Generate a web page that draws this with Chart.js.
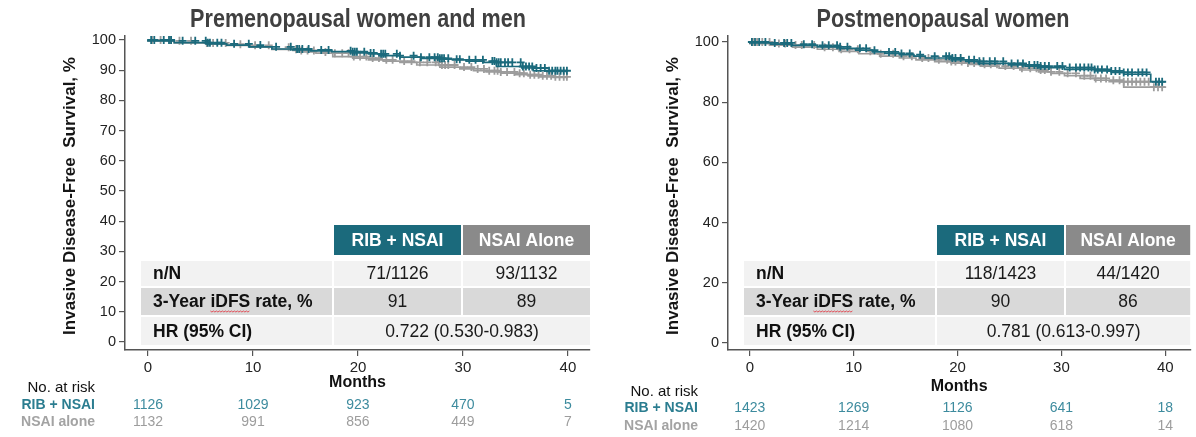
<!DOCTYPE html>
<html>
<head>
<meta charset="utf-8">
<script src="https://cdn.jsdelivr.net/npm/chart.js@4.4.1/dist/chart.umd.min.js"></script>
<style>
  html, body { margin: 0; padding: 0; background: #fff; }
  body { width: 1196px; height: 437px; position: relative; overflow: hidden; }
  canvas { position: absolute; top: 0; }
  #pre { left: 0; }
  #post { left: 603px; }
</style>
</head>
<body>
<canvas id="pre" width="598" height="437"></canvas>
<canvas id="post" width="593" height="437"></canvas>
<script>
// Axis ticks
const monthTicks = [0, 10, 20, 30, 40];
const preSurvTicks = [0, 10, 20, 30, 40, 50, 60, 70, 80, 90, 100];
const postSurvTicks = [0, 20, 40, 60, 80, 100];

// Kaplan-Meier steps: event month / survival %
const preRibMonths = [0, 2.5, 5.6, 7.5, 9.7, 11.8, 13.8, 15.5, 17.5, 19.5, 21, 22, 24, 26, 27.8, 29, 30.3, 32, 33.2, 35.6, 36.7, 38, 40];
const preRibSurv   = [100, 99.7, 99.1, 98.7, 98.3, 97.7, 97.0, 96.7, 96.4, 96.1, 95.7, 95.4, 94.8, 94.3, 93.9, 93.6, 93.4, 93.0, 92.6, 91.2, 90.7, 89.8, 89.6];
const preNsaiMonths = [0, 2.5, 5.6, 7.5, 9.7, 11.8, 13.8, 14.4, 16, 17.6, 19.5, 21, 22.4, 24, 25.6, 27.8, 29.7, 31, 32.2, 33.6, 35, 36.2, 37.3, 38.6, 40];
const preNsaiSurv   = [100, 99.7, 99.0, 98.6, 98.2, 97.6, 96.9, 96.5, 96.0, 95.6, 94.5, 94.0, 93.4, 93.0, 92.6, 91.7, 91.0, 90.4, 89.8, 89.4, 89.0, 88.5, 88.1, 87.8, 87.6];
const postRibMonths = [0, 2, 4.1, 6.5, 8.6, 10.2, 11.8, 13, 14.4, 15.8, 16.9, 19.4, 20.8, 22, 24.9, 26.5, 27.8, 30.3, 33.2, 34.8, 36, 38.6, 39, 40];
const postRibSurv   = [100, 99.7, 99.3, 98.9, 98.4, 97.9, 97.3, 96.7, 96.2, 95.8, 95.3, 94.7, 94.1, 93.6, 92.9, 92.4, 92.0, 91.5, 90.9, 90.4, 89.9, 89.3, 86.8, 86.8];
const postNsaiMonths = [0, 2, 4.1, 6.5, 8.6, 10.5, 12.5, 14.4, 16, 17.8, 19.4, 21, 22.3, 24, 26, 27.8, 29, 30.3, 31.8, 33.2, 34.6, 36, 38.6, 40];
const postNsaiSurv   = [100, 99.5, 99.0, 98.3, 97.6, 96.9, 96.1, 95.3, 94.7, 94.1, 93.5, 93.0, 92.6, 92.0, 91.3, 90.7, 90.1, 89.6, 88.8, 87.9, 87.3, 86.8, 85.0, 85.0];

// Censoring times (months)
const preRibCensor = [0.3, 0.6, 1.5, 2.0, 2.2, 3.3, 4.5, 5.5, 5.7, 5.9, 6.6, 7.0, 8.2, 9.6, 10.7, 12.2, 13.6, 14.2, 14.4, 14.7, 15.3, 16.5, 17.2, 19.3, 19.5, 19.7, 19.9, 20.6, 21.2, 21.5, 22.2, 22.4, 22.6, 23.7, 24.0, 25.3, 26.0, 26.8, 27.3, 27.6, 27.8, 28.0, 28.2, 28.6, 29.4, 29.7, 30.6, 31.2, 31.9, 32.8, 33.0, 33.2, 33.4, 33.6, 34.0, 34.3, 34.7, 35.5, 35.7, 36.0, 36.3, 36.6, 37.0, 37.4, 37.8, 38.2, 38.5, 38.8, 39.0, 39.3, 39.6, 39.9];
const preNsaiCensor = [0.4, 1.2, 2.1, 3.0, 4.1, 5.6, 6.2, 7.4, 8.8, 10.2, 11.5, 13.4, 14.1, 14.6, 15.2, 15.8, 16.9, 17.8, 18.5, 19.1, 19.6, 20.2, 20.8, 21.4, 22.0, 22.7, 23.3, 24.4, 25.1, 25.9, 26.6, 27.4, 27.7, 28.0, 28.3, 28.6, 29.2, 30.1, 30.8, 31.4, 32.0, 32.5, 33.0, 33.3, 33.6, 34.2, 34.9, 35.4, 35.8, 36.4, 36.8, 37.2, 37.6, 38.0, 38.4, 38.8, 39.2, 39.6, 39.9];
const postRibCensor = [0.2, 0.5, 0.9, 1.5, 2.4, 3.3, 3.6, 4.0, 5.2, 6.0, 7.0, 7.6, 8.4, 8.7, 9.4, 10.6, 11.2, 12.0, 13.4, 14.0, 14.6, 15.4, 16.4, 17.8, 18.9, 19.2, 19.5, 19.8, 20.3, 21.1, 21.6, 22.1, 22.5, 23.1, 23.6, 24.4, 25.2, 25.8, 26.3, 26.9, 27.4, 27.7, 28.0, 28.4, 28.8, 29.6, 30.1, 30.8, 31.4, 31.8, 32.2, 32.6, 32.9, 33.2, 33.5, 33.9, 34.4, 34.8, 35.2, 35.6, 36.0, 36.4, 36.8, 37.4, 37.8, 38.2, 39.1, 39.4, 39.7];
const postNsaiCensor = [0.3, 0.7, 1.2, 1.9, 2.8, 3.4, 4.4, 5.0, 6.2, 7.2, 8.0, 8.8, 9.6, 10.4, 11.6, 12.6, 13.8, 14.8, 15.6, 16.6, 17.2, 18.2, 19.0, 19.4, 19.8, 20.4, 21.0, 21.6, 22.2, 22.6, 23.2, 23.8, 24.6, 25.4, 26.2, 27.0, 27.6, 28.0, 28.4, 29.0, 29.8, 30.6, 31.4, 32.2, 32.8, 33.3, 33.8, 34.3, 35.0, 35.6, 36.0, 36.4, 36.8, 37.2, 37.6, 38.0, 38.4, 38.9, 39.3, 39.7];

// Numbers at risk at each month tick
const preRiskRib = [1126, 1029, 923, 470, 5];
const preRiskNsai = [1132, 991, 856, 449, 7];
const postRiskRib = [1423, 1269, 1126, 641, 18];
const postRiskNsai = [1420, 1214, 1080, 618, 14];

// Summary table
const armNames = ['RIB + NSAI', 'NSAI Alone'];
const rowLabels = ['n/N', '3-Year iDFS rate, %', 'HR (95% CI)'];
const preEvents = ['71/1126', '93/1132'];
const preRate = [91, 89];
const preHR = '0.722 (0.530-0.983)';
const postEvents = ['118/1423', '44/1420'];
const postRate = [90, 86];
const postHR = '0.781 (0.613-0.997)';

const TEAL = '#1b6a7c';
const GREY = '#9c9c9c';
const SANS = '"Liberation Sans", Arial, sans-serif';

function hasFont(name) {
  const c = document.createElement('canvas').getContext('2d');
  c.font = '20px monospace';
  const w = c.measureText('abcdefghijWMmw').width;
  c.font = `20px "${name}", monospace`;
  return c.measureText('abcdefghijWMmw').width !== w;
}
const narrowOk = hasFont('Liberation Sans Narrow');

function steps(months, surv) {
  return months.map((m, i) => ({ x: m, y: surv[i] }));
}

// survival value of a step curve at month t
function survAt(t, months, surv) {
  let v = surv[0];
  for (let i = 0; i < months.length; i++) {
    if (months[i] <= t) v = surv[i];
  }
  return v;
}

function censorPoints(times, months, surv) {
  return times.map(t => ({ x: t, y: survAt(t, months, surv) }));
}

const kmTable = {
  id: 'kmTable',
  afterDraw(chart, args, opts) {
    const ctx = chart.ctx;
    const area = chart.chartArea;
    const xs = chart.scales.x;
    ctx.save();

    // panel title
    ctx.fillStyle = '#404040';
    ctx.textAlign = 'center';
    ctx.textBaseline = 'alphabetic';
    if (narrowOk) {
      ctx.font = 'bold 26px "Liberation Sans Narrow"';
      ctx.fillText(opts.title, opts.titleX, 27);
    } else {
      ctx.font = 'bold 26px ' + SANS;
      ctx.translate(opts.titleX, 27);
      ctx.scale(0.83, 1);
      ctx.fillText(opts.title, 0, 0);
      ctx.setTransform(1, 0, 0, 1, 0, 0);
    }

    // y axis title
    ctx.save();
    ctx.translate(70, 196);
    ctx.rotate(-Math.PI / 2);
    ctx.font = 'bold 17px ' + SANS;
    ctx.fillStyle = '#151515';
    ctx.textBaseline = 'middle';
    ctx.fillText('Invasive Disease-Free  Survival, %', 0, 0);
    ctx.restore();

    // summary table
    const c0 = 141, c1 = 334, c2 = 463, c3 = area.right;
    const rows = [[261, 286], [288, 315], [317, 345]];
    ctx.fillStyle = TEAL;
    ctx.fillRect(c1, 225, c2 - c1 - 2, 30);
    ctx.fillStyle = '#8a8a8a';
    ctx.fillRect(c2, 225, c3 - c2, 30);
    const bg = ['#f2f2f2', '#d9d9d9', '#f2f2f2'];
    rows.forEach((r, i) => {
      ctx.fillStyle = bg[i];
      ctx.fillRect(c0, r[0], c1 - c0 - 2, r[1] - r[0]);
      if (i < 2) {
        ctx.fillRect(c1, r[0], c2 - c1 - 2, r[1] - r[0]);
        ctx.fillRect(c2, r[0], c3 - c2, r[1] - r[0]);
      } else {
        ctx.fillRect(c1, r[0], c3 - c1, r[1] - r[0]);
      }
    });

    ctx.textBaseline = 'middle';
    ctx.textAlign = 'center';
    ctx.font = 'bold 17.5px ' + SANS;
    ctx.fillStyle = '#ffffff';
    ctx.fillText(armNames[0], (c1 + c2 - 2) / 2, 241);
    ctx.fillText(armNames[1], (c2 + c3) / 2, 241);

    ctx.textAlign = 'left';
    ctx.fillStyle = '#111';
    rowLabels.forEach((lab, i) => {
      ctx.fillText(lab, c0 + 12, (rows[i][0] + rows[i][1]) / 2 + 1);
    });
    // red wavy underline under iDFS
    const pre = ctx.measureText('3-Year ').width;
    const word = ctx.measureText('iDFS').width;
    ctx.strokeStyle = '#e2515a';
    ctx.lineWidth = 1;
    ctx.beginPath();
    for (let dx = 0; dx <= word; dx += 1.5) {
      const yy = 311 + ((Math.round(dx / 1.5) % 2) ? 1 : 0);
      if (dx === 0) ctx.moveTo(c0 + 12 + pre + dx, yy);
      else ctx.lineTo(c0 + 12 + pre + dx, yy);
    }
    ctx.stroke();

    ctx.textAlign = 'center';
    ctx.font = '17.5px ' + SANS;
    ctx.fillStyle = '#1a1a1a';
    const mid1 = (c1 + c2 - 2) / 2, mid2 = (c2 + c3) / 2;
    ctx.fillText(opts.events[0], mid1, 274);
    ctx.fillText(opts.events[1], mid2, 274);
    ctx.fillText(String(opts.rate[0]), mid1, 302);
    ctx.fillText(String(opts.rate[1]), mid2, 302);
    ctx.fillText(opts.hr, (c1 + c3) / 2, 332);

    // x axis title
    ctx.font = 'bold 16px ' + SANS;
    ctx.fillStyle = '#111';
    ctx.fillText('Months', (area.left + area.right) / 2, opts.monthsY);

    // numbers at risk
    const lx = area.left - 30;
    ctx.textAlign = 'right';
    ctx.font = '15px ' + SANS;
    ctx.fillStyle = '#111';
    ctx.fillText('No. at risk', lx, opts.riskY[0]);
    ctx.font = 'bold 14px ' + SANS;
    ctx.fillStyle = '#2b7d90';
    ctx.fillText('RIB + NSAI', lx, opts.riskY[1]);
    ctx.fillStyle = '#a3a3a3';
    ctx.fillText('NSAI alone', lx, opts.riskY[2]);

    ctx.textAlign = 'center';
    ctx.font = '14px ' + SANS;
    monthTicks.forEach((m, i) => {
      const px = xs.getPixelForValue(m);
      ctx.fillStyle = '#3d8b9e';
      ctx.fillText(String(opts.riskRib[i]), px, opts.riskY[1]);
      ctx.fillStyle = '#9d9d9d';
      ctx.fillText(String(opts.riskNsai[i]), px, opts.riskY[2]);
    });
    ctx.restore();
  }
};

function makePanel(id, p) {
  const ctx = document.getElementById(id).getContext('2d');
  return new Chart(ctx, {
    type: 'line',
    data: {
      datasets: [
        {
          label: 'RIB + NSAI',
          data: steps(p.ribMonths, p.ribSurv),
          stepped: 'after',
          borderColor: TEAL,
          borderWidth: 1.7,
          pointRadius: 0
        },
        {
          type: 'scatter',
          label: 'RIB + NSAI censored',
          data: censorPoints(p.ribCensor, p.ribMonths, p.ribSurv),
          pointStyle: 'cross',
          pointRadius: 4,
          borderColor: TEAL,
          borderWidth: 1.8
        },
        {
          label: 'NSAI alone',
          data: steps(p.nsaiMonths, p.nsaiSurv),
          stepped: 'after',
          borderColor: GREY,
          borderWidth: 1.7,
          pointRadius: 0
        },
        {
          type: 'scatter',
          label: 'NSAI alone censored',
          data: censorPoints(p.nsaiCensor, p.nsaiMonths, p.nsaiSurv),
          pointStyle: 'cross',
          pointRadius: 4,
          borderColor: GREY,
          borderWidth: 1.8
        }
      ]
    },
    options: {
      responsive: false,
      animation: false,
      events: [],
      layout: { padding: { top: 36, right: p.padRight, left: 0, bottom: 0 } },
      plugins: {
        legend: { display: false },
        tooltip: { enabled: false },
        kmTable: p.table
      },
      scales: {
        x: {
          type: 'linear',
          min: p.xMin,
          max: p.xMax,
          afterBuildTicks: s => { s.ticks = monthTicks.map(v => ({ value: v })); },
          afterFit: s => { s.height = 87; },
          grid: { drawOnChartArea: false, tickLength: 6, color: '#555', lineWidth: 1.2 },
          border: { color: '#555', width: 1.5 },
          ticks: { color: '#222', padding: 3, maxRotation: 0, autoSkip: false, font: { family: SANS, size: 15 } }
        },
        y: {
          type: 'linear',
          min: p.yMin,
          max: p.yMax,
          afterBuildTicks: s => { s.ticks = p.yTicks.map(v => ({ value: v })); },
          afterFit: s => { s.width = 125; },
          grid: { drawOnChartArea: false, tickLength: 6, color: '#555', lineWidth: 1.2 },
          border: { color: '#555', width: 1.5 },
          ticks: { color: '#222', padding: 3, autoSkip: false, font: { family: SANS, size: 14.5 } }
        }
      }
    },
    plugins: [kmTable]
  });
}

makePanel('pre', {
  ribMonths: preRibMonths, ribSurv: preRibSurv, ribCensor: preRibCensor,
  nsaiMonths: preNsaiMonths, nsaiSurv: preNsaiSurv, nsaiCensor: preNsaiCensor,
  yTicks: preSurvTicks,
  xMin: -2.19, xMax: 42.1, yMin: -2.65, yMax: 101.3, padRight: 8,
  table: {
    title: 'Premenopausal women and men', titleX: 358,
    events: preEvents, rate: preRate, hr: preHR,
    riskRib: preRiskRib, riskNsai: preRiskNsai,
    monthsY: 383, riskY: [388, 405, 422]
  }
});

makePanel('post', {
  ribMonths: postRibMonths, ribSurv: postRibSurv, ribCensor: postRibCensor,
  nsaiMonths: postNsaiMonths, nsaiSurv: postNsaiSurv, nsaiCensor: postNsaiCensor,
  yTicks: postSurvTicks,
  xMin: -2.1, xMax: 42.4, yMin: -2.3, yMax: 102, padRight: 3,
  table: {
    title: 'Postmenopausal women', titleX: 340,
    events: postEvents, rate: postRate, hr: postHR,
    riskRib: postRiskRib, riskNsai: postRiskNsai,
    monthsY: 387, riskY: [392, 408, 426]
  }
});
</script>
</body>
</html>
